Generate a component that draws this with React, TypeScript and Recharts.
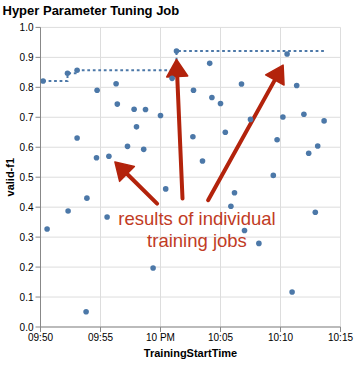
import React from 'react';
import { ComposedChart, Scatter, Line, XAxis, YAxis, CartesianGrid, ReferenceLine } from 'recharts';

// Start times of individual training jobs and their valid-f1 scores
const jobTimes = [
  '21:50:13', '21:50:33', '21:52:15', '21:52:18', '21:53:03', '21:53:03', '21:53:48', '21:53:52',
  '21:54:40', '21:54:43', '21:55:33', '21:55:42', '21:56:18', '21:56:24', '21:57:15', '21:57:48',
  '21:58:00', '21:58:36', '21:58:45', '21:59:23', '22:00:00', '22:00:26', '22:00:58', '22:01:20',
  '22:02:42', '22:02:45', '22:03:30', '22:04:06', '22:04:17', '22:05:00', '22:05:24', '22:05:52',
  '22:06:10', '22:06:45', '22:07:00', '22:07:30', '22:08:12', '22:09:24', '22:09:43', '22:10:12',
  '22:10:33', '22:10:58', '22:11:21', '22:11:57', '22:12:21', '22:12:54', '22:13:06', '22:13:38',
];
const jobScores = [
  0.821, 0.327, 0.847, 0.387, 0.857, 0.631, 0.051, 0.43,
  0.565, 0.79, 0.367, 0.57, 0.812, 0.744, 0.603, 0.727,
  0.668, 0.593, 0.726, 0.197, 0.706, 0.461, 0.83, 0.921,
  0.635, 0.79, 0.554, 0.88, 0.766, 0.746, 0.65, 0.403,
  0.448, 0.811, 0.322, 0.693, 0.279, 0.506, 0.625, 0.701,
  0.911, 0.117, 0.806, 0.71, 0.58, 0.383, 0.604, 0.688,
];

// Best-so-far (running maximum) step line
const bestTimes = ['21:50:13', '21:52:15', '21:53:03', '22:01:20', '22:13:38'];
const bestScores = [0.821, 0.847, 0.857, 0.921, 0.921];

// Axis ticks
const xTickTimes = ['21:50', '21:55', '22:00', '22:05', '22:10', '22:15'];
const xTickLabels = ['09:50', '09:55', '10 PM', '10:05', '10:10', '10:15'];
const yTicks = [0, 0.1, 0.2, 0.3, 0.4, 0.5, 0.6, 0.7, 0.8, 0.9, 1.0];

// Annotation arrows: [tailTime, tailScore, tipTime, tipScore]
const arrowTailTimes = ['21:59:43', '22:01:50', '22:03:58'];
const arrowTailScores = [0.412, 0.429, 0.423];
const arrowTipTimes = ['21:56:12', '22:01:20', '22:10:13'];
const arrowTipScores = [0.551, 0.893, 0.874];

const annotationLines = ['results of individual', 'training jobs'];
const titleText = 'Hyper Parameter Tuning Job';

const toMin = (s: string) => {
  const [h, m, sec] = s.split(':').map(Number);
  return h * 60 + m + (sec || 0) / 60;
};

const points = jobTimes.map((t, i) => ({ t: toMin(t), v: jobScores[i] }));
const bestLine = bestTimes.map((t, i) => ({ t: toMin(t), v: bestScores[i] }));
const xTicks = xTickTimes.map(toMin);
const arrows = arrowTailTimes.map((t, i) => ({
  x1: toMin(t), y1: arrowTailScores[i], x2: toMin(arrowTipTimes[i]), y2: arrowTipScores[i],
}));

const FONT = '"Liberation Sans", Arial, Helvetica, sans-serif';
const BLUE = '#4c78a8';
const ARROW = '#b3230c';
const TEXTRED = '#c13b24';

const ArrowShape = (props: any) => {
  const { x1, y1, x2, y2 } = props;
  const dx = x2 - x1;
  const dy = y2 - y1;
  const len = Math.hypot(dx, dy) || 1;
  const ux = dx / len;
  const uy = dy / len;
  const headLen = 17;
  const headW = 10.5;
  const bx = x2 - ux * headLen;
  const by = y2 - uy * headLen;
  const px = -uy;
  const py = ux;
  return (
    <g>
      <line x1={x1} y1={y1} x2={bx + ux * 3} y2={by + uy * 3} stroke={ARROW} strokeWidth={4} strokeLinecap="round" />
      <polygon
        points={`${x2},${y2} ${bx + px * headW},${by + py * headW} ${bx - px * headW},${by - py * headW}`}
        fill={ARROW}
        stroke={ARROW}
        strokeWidth={1.5}
        strokeLinejoin="round"
      />
    </g>
  );
};

const Dot = (p: any) => <circle cx={p.cx} cy={p.cy} r={2.8} fill={BLUE} />;

export default function App() {
  return (
    <div style={{ position: 'absolute', left: 0, top: 0, width: 357, height: 367, background: '#fff' }}>
      <ComposedChart width={357} height={367} margin={{ top: 27.4, right: 16.5, bottom: 0, left: 0 }}>
        <CartesianGrid stroke="#ddd" strokeWidth={1} />
        <XAxis
          type="number"
          dataKey="t"
          domain={[xTicks[0], xTicks[xTicks.length - 1]]}
          ticks={xTicks}
          interval={0}
          allowDataOverflow
          height={40}
          tickFormatter={(v: number) => {
            const idx = xTicks.findIndex((x) => Math.abs(x - v) < 1e-6);
            return idx >= 0 ? xTickLabels[idx] : '';
          }}
          tick={{ fontSize: 10, fill: '#000', fontFamily: FONT }}
          tickSize={5}
          tickMargin={2}
          axisLine={{ stroke: '#888' }}
          tickLine={{ stroke: '#888' }}
          label={{
            value: 'TrainingStartTime',
            position: 'insideBottom',
            offset: 10,
            style: { fontSize: 11, fontWeight: 'bold', fill: '#000', fontFamily: FONT },
          }}
        />
        <YAxis
          type="number"
          domain={[0, 1]}
          ticks={yTicks}
          interval={0}
          width={40.5}
          tickFormatter={(v: number) => v.toFixed(1)}
          tick={{ fontSize: 10, fill: '#000', fontFamily: FONT }}
          tickSize={5}
          tickMargin={2}
          axisLine={{ stroke: '#888' }}
          tickLine={{ stroke: '#888' }}
          label={{
            value: 'valid-f1',
            angle: -90,
            position: 'insideLeft',
            offset: 10,
            style: { fontSize: 11, fontWeight: 'bold', fill: '#000', fontFamily: FONT, textAnchor: 'middle' },
          }}
        />
        <Line
          data={bestLine}
          dataKey="v"
          type="stepAfter"
          stroke={BLUE}
          strokeWidth={2}
          strokeDasharray="2.75 2.75"
          dot={false}
          activeDot={false}
          isAnimationActive={false}
        />
        <Scatter data={points} dataKey="v" fill={BLUE} shape={Dot} isAnimationActive={false} />
        {arrows.map((a, i) => (
          <ReferenceLine
            key={i}
            segment={[{ x: a.x1, y: a.y1 }, { x: a.x2, y: a.y2 }]}
            ifOverflow="visible"
            shape={ArrowShape}
          />
        ))}
      </ComposedChart>
      <svg width={357} height={367} style={{ position: 'absolute', left: 0, top: 0, pointerEvents: 'none' }}>
        <text x={2.5} y={15} fontFamily={FONT} fontSize={13} fontWeight="bold" fill="#000">
          {titleText}
        </text>
        <text x={197} y={225} fontFamily={FONT} fontSize={18.5} fill={TEXTRED} textAnchor="middle">
          {annotationLines[0]}
        </text>
        <text x={197} y={246.5} fontFamily={FONT} fontSize={18.5} fill={TEXTRED} textAnchor="middle">
          {annotationLines[1]}
        </text>
      </svg>
    </div>
  );
}
